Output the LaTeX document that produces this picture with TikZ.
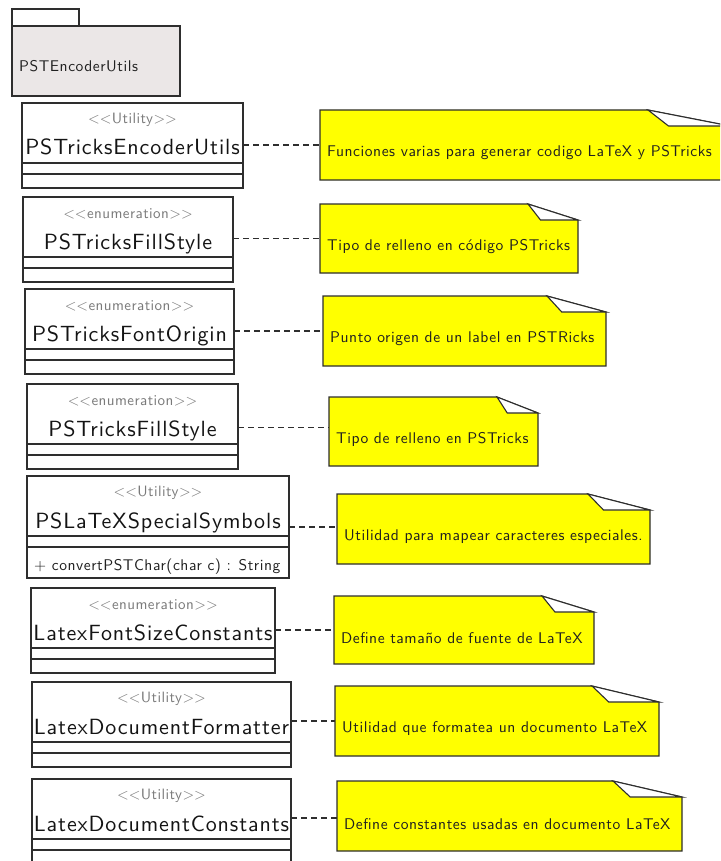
\documentclass[tikz,border=0pt]{standalone}
\usepackage{fontspec}
\usetikzlibrary{calc}

% Latin Modern Sans loaded as a fontspec family so that tracking can be adjusted
\newfontfamily\umlsans{lmsans10-regular.otf}

\definecolor{strokecol}{HTML}{2E2E2E}
\definecolor{pkgfill}{HTML}{EBE7E7}
\definecolor{notefill}{HTML}{FFFF00}
\definecolor{stereocol}{HTML}{7A7A7A}
\definecolor{namecol}{HTML}{141414}
\definecolor{textcol}{HTML}{202020}

\tikzset{
  box/.style={draw=strokecol, line width=1.1pt, outer sep=0pt, inner sep=0pt},
  pkgtab/.style={box, fill=white},
  pkgbody/.style={box, fill=pkgfill},
  classrect/.style={box, fill=white},
  sepline/.style={draw=strokecol, line width=1.1pt},
  notearea/.style={outer sep=0pt, inner sep=0pt},
  notefold/.style={draw=strokecol, line width=1.1pt, fill=notefill, line join=miter},
  notecorner/.style={draw=strokecol, line width=1.1pt, fill=white, line join=miter},
  dashline/.style={draw=strokecol, line width=1.1pt, dash pattern=on 6pt off 4pt},
  stereo/.style={font=\umlsans\fontsize{15}{15}\selectfont\addfontfeatures{LetterSpace=3},
    text=stereocol, inner sep=0pt},
  cname/.style={font=\umlsans\fontsize{22}{22}\selectfont\addfontfeatures{LetterSpace=4},
    text=namecol, inner sep=0pt, anchor=base},
  small/.style={font=\umlsans\fontsize{15.5}{15.5}\selectfont\addfontfeatures{LetterSpace=3.5},
    text=textcol, inner sep=0pt},
}

% guillemet-free stereotype brackets
\newcommand\stlt{<\kern0pt<}
\newcommand\stgt{>\kern0pt>}

% class box: name, left, top, width, height, stereotype, class name
\newcommand\umlclass[7]{%
  \node[classrect, minimum width=#4pt, minimum height=#5pt, anchor=north west] (#1) at (#2,#3) {};
  \draw[sepline] ([yshift=-60pt]#1.north west) -- ([yshift=-60pt]#1.north east);
  \draw[sepline] ([yshift=-71pt]#1.north west) -- ([yshift=-71pt]#1.north east);
  \node[stereo] (#1-st) at ([yshift=-17pt]#1.north) {\stlt#6\stgt};
  \node[cname] (#1-nm) at ([yshift=-52pt]#1.north) {#7};
}

% note with folded corner: name, left, top, width, height, fold width, text
\newcommand\umlnote[7]{%
  \node[notearea, minimum width=#4pt, minimum height=#5pt, anchor=north west] (#1) at (#2,#3) {};
  \path[notefold] (#1.north west) -- ([xshift=-#6pt]#1.north east)
    -- ([yshift=-16pt]#1.north east) -- (#1.south east) -- (#1.south west) -- cycle;
  \path[notecorner] ([xshift=-#6pt]#1.north east)
    -- ([xshift={-0.75*#6pt},yshift=-16pt]#1.north east)
    -- ([yshift=-16pt]#1.north east) -- cycle;
  \node[small, anchor=west] (#1-tx) at ([xshift=7pt,yshift=-8pt]#1.west) {#7};
}

\begin{document}
\begin{tikzpicture}[x=1pt, y=-1pt]
  \useasboundingbox (0,0) rectangle (720,861);
  \clip (0,0) rectangle (720,861);

  % package
  \node[pkgtab, minimum width=67pt, minimum height=17pt, anchor=north west] (ptab) at (12,9) {};
  \node[pkgbody, minimum width=168pt, minimum height=70pt, anchor=north west] (pkg) at (12,26) {};
  \node[small, anchor=base west] (pkglabel) at (19,72) {PSTEncoderUtils};

  % classes
  \umlclass{c1}{22}{103}{221}{85}{Utility}{PSTricksEncoderUtils}
  \umlclass{c2}{23}{197}{210}{85}{enumeration}{PSTricksFillStyle}
  \umlclass{c3}{25}{289}{209}{85}{enumeration}{PSTricksFontOrigin}
  \umlclass{c4}{27}{384}{211}{85}{enumeration}{PSTricksFillStyle}
  \umlclass{c5}{27}{476}{262}{102}{Utility}{PSLaTeXSpecialSymbols}
  \node[small, anchor=base west] (c5-op) at ([xshift=7pt,yshift=-94pt]c5.north west)
    {+ convertPSTChar(char c) : String};
  \umlclass{c6}{31}{588}{244}{85}{enumeration}{LatexFontSizeConstants}
  \umlclass{c7}{32}{682}{259}{85}{Utility}{LatexDocumentFormatter}
  \umlclass{c8}{32}{779}{259}{85}{Utility}{LatexDocumentConstants}

  % notes
  \umlnote{n1}{320}{110}{410}{70}{82}{Funciones varias para generar codigo LaTeX y PSTricks}
  \umlnote{n2}{320}{204}{258}{69}{50}{Tipo de relleno en código PSTricks}
  \umlnote{n3}{323}{296}{283}{70}{59}{Punto origen de un label en PSTRicks}
  \umlnote{n4}{329}{397}{209}{69}{41}{Tipo de relleno en PSTricks}
  \umlnote{n5}{337}{494}{313}{70}{62}{Utilidad para mapear caracteres especiales.}
  \umlnote{n6}{334}{596}{260}{68}{52}{Define tamaño de fuente de LaTeX}
  \umlnote{n7}{335}{686}{324}{70}{67}{Utilidad que formatea un documento LaTeX}
  \umlnote{n8}{337}{781}{345}{70}{69}{Define constantes usadas en documento LaTeX}

  % note attachments
  \draw[dashline] (c1.east |- n1.west) -- (n1.west);
  \draw[dashline] (c2.east |- n2.west) -- (n2.west);
  \draw[dashline] (c3.east |- n3.west) -- (n3.west);
  \draw[dashline] ([yshift=4pt]c4.east |- n4.west) -- ([yshift=4pt]n4.west);
  \draw[dashline] ([yshift=2pt]c5.east |- n5.west) -- ([yshift=2pt]n5.west);
  \draw[dashline] (c6.east |- n6.west) -- (n6.west);
  \draw[dashline] (c7.east |- n7.west) -- (n7.west);
  \draw[dashline] ([yshift=-2pt]c8.east |- n8.west) -- ([yshift=-2pt]n8.west);
\end{tikzpicture}
\end{document}
